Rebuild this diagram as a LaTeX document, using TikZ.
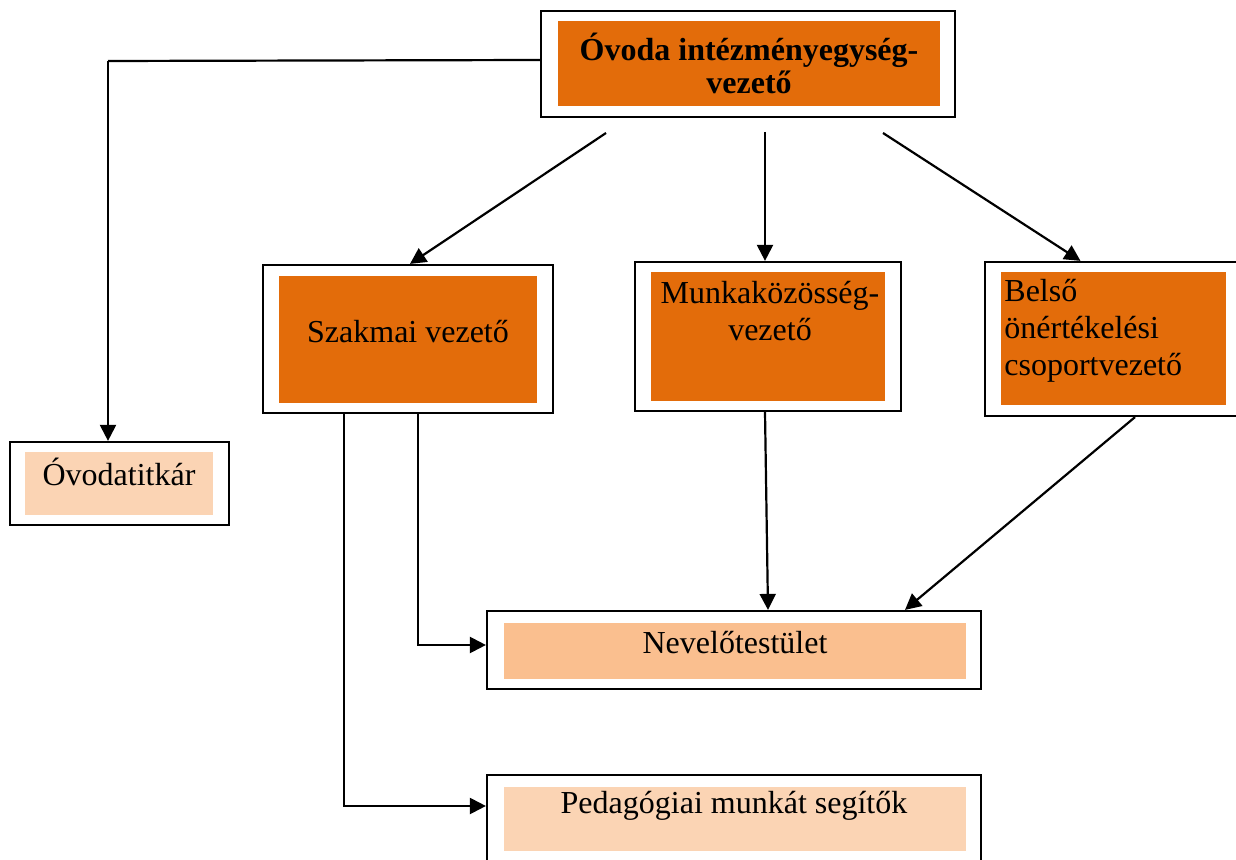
\documentclass[tikz,border=0pt]{standalone}
\usepackage{fontspec}
\setmainfont{Liberation Serif}
\usepackage{tikz}
\usetikzlibrary{arrows.meta}
\definecolor{darkorange}{RGB}{227, 108, 10}
\definecolor{midorange}{RGB}{250, 191, 143}
\definecolor{paleorange}{RGB}{251, 212, 180}

\begin{document}
\begin{tikzpicture}[
    x=0.5pt,y=-0.5pt,
    outer/.style={draw,line width=1.1pt,fill=white,inner sep=0pt},
    inner/.style={inner sep=0pt,align=center,font=\fontsize{16}{18.4}\selectfont},
    lbl/.style={inner sep=0pt,font=\fontsize{16}{18.4}\selectfont},
    arr/.style={-{Triangle[length=8pt,width=8pt]},line width=1.1pt}
]
\useasboundingbox (0,0) rectangle (1236,860);

% vezeto
\node[outer, minimum width=207pt, minimum height=53pt] (top) at (748,64) {};
\node[inner, fill=darkorange, minimum width=191pt, minimum height=42.5pt,
      font=\fontsize{16}{16.5}\selectfont\bfseries] (top-in) at (749,63.5)
      {Óvoda intézményegység-\\vezető};

% middle row
\node[outer, minimum width=145pt, minimum height=74pt] (szak) at (408,339) {};
\node[inner, fill=darkorange, minimum width=129pt, minimum height=63.5pt] (szak-in) at (408,339.5) {};
\node[lbl] (szak-t) at (408,332) {Szakmai vezető};

\node[outer, minimum width=133pt, minimum height=74.5pt] (munka) at (768,336.5) {};
\node[inner, fill=darkorange, minimum width=117pt, minimum height=64.5pt] (munka-in) at (768,336.5) {};
\node[lbl, align=center] (munka-t) at (770,311) {Munkaközösség-\\vezető};

\node[outer, minimum width=128.5pt, minimum height=77pt] (belso) at (1113.5,339) {};
\node[inner, fill=darkorange, minimum width=112.5pt, minimum height=66.5pt] (belso-in) at (1113.5,338.5) {};
\node[lbl, align=left, anchor=west] (belso-t) at (1004,331) {Belső\\önértékelési\\csoportvezető};

% lower boxes
\node[outer, minimum width=109.5pt, minimum height=41.5pt] (titkar) at (119.5,483.5) {};
\node[inner, fill=paleorange, minimum width=94pt, minimum height=31.5pt] (titkar-in) at (119,483.5) {};
\node[lbl] (titkar-t) at (119,472) {Óvodatitkár};

\node[outer, minimum width=247pt, minimum height=39pt] (nevelo) at (734,650) {};
\node[inner, fill=midorange, minimum width=231pt, minimum height=28pt] (nevelo-in) at (735,651) {};
\node[lbl] (nevelo-t) at (735,643) {Nevelőtestület};

\node[outer, minimum width=247pt, minimum height=47.5pt] (peda) at (734,822.5) {};
\node[inner, fill=paleorange, minimum width=231pt, minimum height=32pt] (peda-in) at (735,819) {};
\node[lbl] (peda-t) at (734,806) {Pedagógiai munkát segítők};

% connectors
\coordinate (c-titkar) at (108,61);
\coordinate (s-szak) at (606,133);
\coordinate (s-munka) at (765,132);
\coordinate (s-belso) at (883,133);

\draw[line width=1.1pt] ([yshift=2pt]top.west) -- (c-titkar);
\draw[arr] (c-titkar) -- (c-titkar |- titkar.north);
\draw[arr] (s-szak) -- ([xshift=1pt]szak.north);
\draw[arr] (s-munka) -- (s-munka |- munka.north);
\draw[arr] (s-belso) -- ([xshift=-16.5pt]belso.north);

\draw[arr] ([xshift=5pt]szak.south) |- ([yshift=2.5pt]nevelo.west);
\draw[arr] ([xshift=-32pt]szak.south) |- ([yshift=8.25pt]peda.west);
\draw[arr] ([xshift=-1.5pt]munka.south) -- ([xshift=17pt]nevelo.north);
\draw[arr] ([xshift=10.75pt]belso.south) -- ([xshift=85.5pt]nevelo.north);
\end{tikzpicture}
\end{document}
